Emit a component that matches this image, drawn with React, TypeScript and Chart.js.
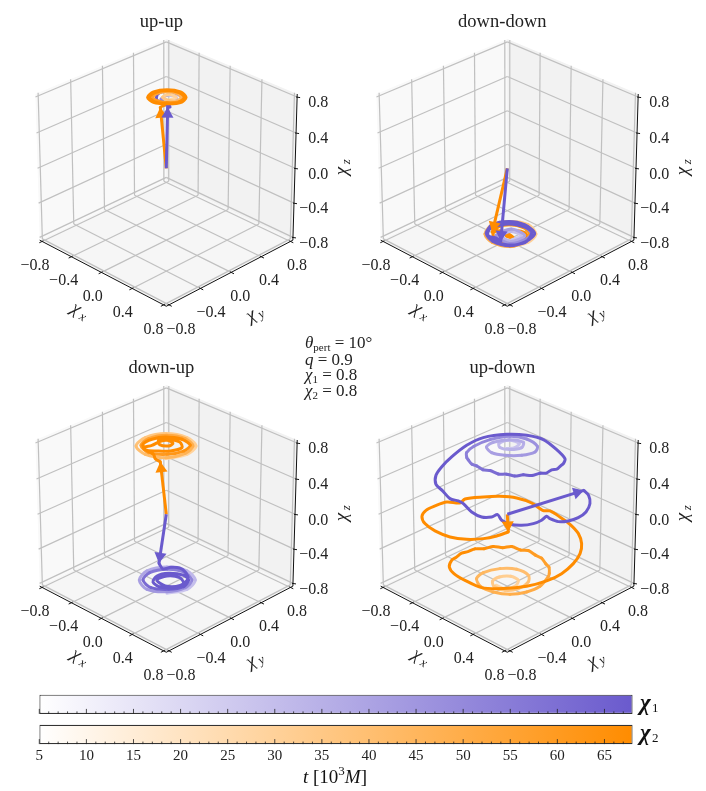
import React, { useEffect, useRef } from "react";
import { Chart, registerables } from "chart.js";

Chart.register(...registerables);

type Vec3 = [number, number, number];

const tickValues = [-0.8, -0.4, 0, 0.4, 0.8];
const tickLabels = ["\u22120.8", "\u22120.4", "0.0", "0.4", "0.8"];
const colorbarMinorTicks = [5,6,7,8,9,10,11,12,13,14,15,16,17,18,19,20,21,22,23,24,25,26,27,28,29,30,31,32,33,34,35,36,37,38,39,40,41,42,43,44,45,46,47,48,49,50,51,52,53,54,55,56,57,58,59,60,61,62,63,64,65,66,67];
const colorbarRange = [5, 68];

const PURPLE = [106, 90, 205];
const ORANGE = [255, 140, 0];

// spin tracks in time order, last point is the final spin the arrow points at
const upUpChi1: Vec3[] = [
  [.01,.03,.78],[.05,.09,.78],[0,.12,.78],[-.07,.08,.78],[-.06,-.01,.78],[.02,-.03,.78],[.09,.05,.78],[.07,.14,.78],
  [-.03,.17,.78],[-.12,.13,.78],[-.15,.04,.78],[-.09,-.04,.78],[0,-.06,.78],[.08,-.04,.78],[.1,-.05,.78],[.085,-.067,.78],
];
const upUpChi2: Vec3[] = [
  [.005,.035,.78],[.015,.116,.78],[-.066,.106,.78],[-.075,.026,.78],[.005,.025,.78],[.067,.073,.78],[.05,.15,.78],[-.03,.17,.78],
  [-.115,.125,.78],[-.16,.04,.78],[-.14,-.04,.78],[-.063,-.057,.78],[.022,-.012,.78],[.092,.077,.78],[.07,.17,.78],[-.025,.195,.78],
  [-.13,.14,.78],[-.185,.035,.78],[-.16,-.06,.78],[-.065,-.085,.78],[.037,-.027,.78],[.112,.077,.78],[.082,.182,.78],[-.022,.212,.78],
  [-.14,.15,.78],[-.202,.032,.78],[-.175,-.075,.78],[-.07,-.1,.78],[.03,-.05,.78],[.036,-.116,.78],
];

const downDownChi1: Vec3[] = [
  [.086,-.033,-.78],[.098,.09,-.78],[-.024,.077,-.78],[-.036,-.044,-.78],[.103,-.05,-.78],[.12,.112,-.78],[-.054,.107,-.78],[-.07,-.078,-.78],
  [.117,-.086,-.78],[.173,.08,-.78],[.135,.186,-.78],[-.018,.227,-.78],[-.154,.176,-.78],[-.218,.027,-.78],[-.166,-.115,-.78],[-.02,-.172,-.78],
  [.146,-.115,-.78],[.203,.05,-.78],[.157,.208,-.78],[-.02,.25,-.78],[-.166,.188,-.78],[-.235,.035,-.78],[-.174,-.098,-.78],[-.037,-.155,-.78],
  [.112,-.125,-.78],[.206,.003,-.78],[.183,.115,-.78],[.101,.219,-.78],[-.075,.195,-.78],[-.175,.095,-.78],[-.198,-.038,-.78],[-.125,-.133,-.78],
  [-.04,-.108,-.78],[.032,-.12,-.78],
];
const downDownChi2: Vec3[] = [
  [.163,-.123,-.78],[.226,.05,-.78],[.174,.208,-.78],[.003,.273,-.78],[-.157,.197,-.78],[-.235,.035,-.78],[-.166,-.132,-.78],[-.012,-.188,-.78],
  [.16,-.12,-.78],[.192,.04,-.78],[.132,.166,-.78],[.003,.206,-.78],[-.115,.155,-.78],[-.164,.04,-.78],[-.104,-.087,-.78],[.025,-.127,-.78],
  [.14,-.064,-.78],[.162,.069,-.78],[.11,.144,-.78],[.012,.13,-.78],[-.046,.055,-.78],[.002,-.015,-.78],[.063,.012,-.78],[.007,.024,-.78],
  [-.11,.008,-.78],[-.138,-.062,-.78],
];

const downUpChi1: Vec3[] = [
  [.188,-.179,-.75],[.271,.005,-.75],[.208,.178,-.75],[.039,.237,-.75],[-.146,.154,-.75],[-.228,-.03,-.75],[-.165,-.195,-.75],[.004,-.262,-.75],
  [.167,-.158,-.75],[.238,.015,-.75],[.186,.156,-.75],[.029,.202,-.75],[-.116,.125,-.75],[-.189,-.033,-.75],[-.141,-.17,-.75],[.01,-.214,-.75],
  [.149,-.118,-.75],[.215,.016,-.75],[.164,.134,-.75],[.071,.16,-.75],[-.054,.085,-.75],[-.098,-.026,-.75],[-.049,-.129,-.75],[.064,-.143,-.75],
  [.161,-.063,-.75],[.177,.054,-.75],[.074,.104,-.75],[-.032,.04,-.75],[-.047,-.077,-.75],[.084,-.097,-.75],[.176,.011,-.75],[.143,.146,-.75],
  [.04,.213,-.75],[-.048,.226,-.75],[-.115,.176,-.75],[-.147,.102,-.75],[-.245,.147,-.75],
];
const downUpChi2: Vec3[] = [
  [.11,-.114,.75],[.195,.081,.75],[.15,.246,.75],[-.016,.292,.75],[-.207,.203,.75],[-.294,.014,.75],[-.25,-.153,.75],[-.083,-.197,.75],
  [.097,-.102,.75],[.171,.082,.75],[.13,.226,.75],[-.015,.268,.75],[-.179,.188,.75],[-.26,.024,.75],[-.226,-.112,.75],[-.082,-.154,.75],
  [.062,-.053,.75],[.131,.1,.75],[.103,.217,.75],[-.029,.238,.75],[-.169,.156,.75],[-.229,.038,.75],[-.225,-.086,.75],[-.138,-.142,.75],
  [-.047,-.077,.75],[.042,.012,.75],[.077,.132,.75],[-.01,.188,.75],[-.129,.138,.75],[-.172,.07,.75],[-.11,.021,.75],[-.033,.064,.75],
  [-.038,.127,.75],[-.116,.125,.75],[-.148,.059,.75],[-.153,-.039,.75],[-.179,-.124,.75],[-.127,-.14,.75],[-.028,-.142,.75],[.039,-.186,.75],
  [.11,-.19,.75],
];

const upDownChi1: Vec3[] = ([
  [.24,.78,.03],[.356,.728,.05],[.492,.61,.07],[.593,.456,.09],[.635,.311,.11],[.632,.181,.13],[.596,.084,.15],[.524,.044,.17],
  [.494,.03,.19],[.522,-.065,.2],[.531,-.184,.22],[.496,-.305,.24],[.427,-.391,.26],[.343,-.418,.28],[.266,-.395,.3],[.267,-.476,.31],
  [.222,-.564,.33],[.114,-.589,.35],[-.025,-.561,.37],[-.082,-.571,.38],[-.156,-.608,.39],[-.292,-.57,.4],[-.409,-.542,.41],[-.501,-.45,.43],
  [-.548,-.328,.45],[-.586,-.156,.47],[-.611,.069,.49],[-.565,.245,.52],[-.418,.41,.55],[-.25,.509,.57],[-.063,.543,.59],[.175,.483,.61],
  [.355,.414,.62],[.4,.35,.615],[.433,.278,.635],[.44,.22,.625],[.435,.156,.645],[.435,.085,.64],[.422,.014,.665],[.39,-.065,.66],
  [.353,-.14,.685],[.3,-.2,.675],[.245,-.253,.695],[.175,-.295,.685],[.098,-.329,.705],[.03,-.355,.695],[-.039,-.37,.715],[-.1,-.37,.705],
  [-.16,-.36,.725],[-.215,-.325,.71],[-.264,-.278,.725],[-.288,-.156,.73],[-.266,.035,.73],[-.164,.2,.74],[-.019,.277,.74],[.156,.245,.75],[.212,.157,.75],
  [.165,.026,.75],[.065,-.096,.76],[-.058,-.151,.76],[-.164,-.113,.76],[-.178,-.009,.76],[-.094,.12,.77],[.034,.18,.77],[.09,.101,.77],
  [.048,-.012,.78],[-.045,-.053,.78],[-.102,-.009,.78],[-.075,.102,.78],[.033,.127,.78],[.055,.047,.78],[.013,-.022,.78],
] as Vec3[]).reverse();
const upDownChi2: Vec3[] = ([
  [.535,-.522,.28],[.421,-.563,.2],[.322,-.642,.16],[.165,-.707,.11],[-.019,-.745,.07],[-.239,-.725,.03],[-.431,-.667,0],[-.576,-.562,-.03],
  [-.647,-.437,-.05],[-.664,-.3,-.07],[-.658,-.15,-.09],[-.568,-.063,-.1],[-.607,.043,-.12],[-.532,.212,-.14],[-.451,.353,-.16],[-.34,.465,-.18],
  [-.199,.523,-.2],[-.055,.526,-.22],[-.019,.588,-.24],[.102,.6,-.26],[.24,.596,-.28],[.381,.567,-.31],[.497,.494,-.34],[.58,.39,-.37],
  [.629,.251,-.4],[.645,.079,-.43],[.605,-.081,-.46],[.507,-.249,-.49],[.359,-.412,-.51],[.18,-.523,-.53],[-.045,-.519,-.55],[-.225,-.486,-.57],
  [-.351,-.422,-.58],[-.442,-.3,-.6],[-.465,-.22,-.615],[-.471,-.138,-.605],[-.465,-.06,-.62],[-.448,.016,-.615],[-.41,.1,-.635],[-.366,.179,-.625],
  [-.31,.25,-.645],[-.254,.312,-.635],[-.185,.36,-.665],[-.115,.394,-.655],[-.03,.405,-.675],[.06,.397,-.665],[.14,.375,-.685],[.213,.343,-.675],
  [.27,.29,-.695],[.315,.231,-.685],[.367,.068,-.7],[.339,-.081,-.71],[.247,-.211,-.72],[.106,-.292,-.72],[-.061,-.295,-.73],[-.185,-.225,-.73],
  [-.227,-.093,-.74],[-.167,.069,-.74],[-.058,.183,-.75],[.096,.185,-.75],[.18,.1,-.75],[.187,-.04,-.76],[.12,-.15,-.76],[-.005,-.173,-.76],
  [-.092,-.103,-.77],[-.098,-.008,-.77],[-.031,.076,-.77],[.07,.077,-.77],[.124,-.022,-.77],[.087,-.118,-.77],[-.015,-.135,-.77],
] as Vec3[]).reverse();

// camera of the 3D box
const BOX_LIMIT = 0.8333;
const ELEV = (28 * Math.PI) / 180;
const AZIM = (-45 * Math.PI) / 180;
const CAMERA_DIST = 14;
const BOX_XY = 1.1;
const BOX_Z = 1.0;
const FOCAL = 2317;
const PANEL_W = 366;
const PANEL_H = 346;
const ORIGIN_X = 166.3;
const ORIGIN_Y = 168.3;

const SERIF = '"Liberation Serif", serif';

const project = ([x, y, z]: Vec3) => {
  const px = (x * BOX_XY) / (2 * BOX_LIMIT);
  const py = (y * BOX_XY) / (2 * BOX_LIMIT);
  const pz = (z * BOX_Z) / (2 * BOX_LIMIT);
  const w = [Math.cos(ELEV) * Math.cos(AZIM), Math.cos(ELEV) * Math.sin(AZIM), Math.sin(ELEV)];
  const u = [-Math.sin(AZIM), Math.cos(AZIM), 0];
  const v = [-w[2] * Math.cos(AZIM), -w[2] * Math.sin(AZIM), Math.cos(ELEV)];
  const depth = CAMERA_DIST - (px * w[0] + py * w[1] + pz * w[2]);
  return {
    x: (FOCAL * (px * u[0] + py * u[1])) / depth,
    y: (FOCAL * (px * v[0] + py * v[1] + pz * v[2])) / depth,
  };
};

// the tracks were read with a flat view of the box, so they go back through the same one
const projectTrack = ([x, y, z]: Vec3) => ({
  x: 75 * (x + y),
  y: 39.5 * (y - x) + 86 * z,
});

const mix = (rgb: number[], f: number) => {
  const c = rgb.map((v) => Math.round(255 + (v - 255) * f));
  return `rgb(${c[0]},${c[1]},${c[2]})`;
};

const pathDataset = (track: Vec3[], rgb: number[]) => ({
  data: track.map(projectTrack),
  showLine: true,
  pointRadius: 0,
  borderWidth: 3,
  tension: 0.3,
  borderColor: mix(rgb, 1),
  borderCapStyle: "round",
  borderJoinStyle: "round",
  segment: {
    borderColor: (ctx: any) => mix(rgb, Math.min(1, 0.35 + (1.4 * ctx.p0DataIndex) / (track.length - 1))),
  },
});

const shaftDataset = (track: Vec3[], rgb: number[]) => ({
  data: [projectTrack([0, 0, 0]), projectTrack(track[track.length - 1])],
  showLine: true,
  pointRadius: 0,
  borderWidth: 3,
  borderColor: mix(rgb, 1),
});

const HEAD_RADIUS = 7;
const headDataset = (track: Vec3[], rgb: number[]) => {
  const tip = projectTrack(track[track.length - 1]);
  const len = Math.hypot(tip.x, tip.y);
  return {
    data: [{ x: tip.x - (HEAD_RADIUS * tip.x) / len, y: tip.y - (HEAD_RADIUS * tip.y) / len }],
    showLine: false,
    pointStyle: "triangle",
    pointRadius: HEAD_RADIUS,
    pointBorderWidth: 0,
    pointBackgroundColor: mix(rgb, 1),
    rotation: (Math.atan2(tip.x, tip.y) * 180) / Math.PI,
  };
};

const boxPlugin = (title: string) => {
  const L = BOX_LIMIT;
  return {
    id: "box",
    beforeDatasetsDraw(chart: any) {
      const { ctx, scales } = chart;
      const toPx = (p: Vec3) => {
        const q = project(p);
        return [scales.x.getPixelForValue(q.x), scales.y.getPixelForValue(q.y)];
      };
      const pane = (pts: Vec3[], fill: string) => {
        ctx.beginPath();
        pts.forEach((p, i) => {
          const [a, b] = toPx(p);
          if (i === 0) ctx.moveTo(a, b);
          else ctx.lineTo(a, b);
        });
        ctx.closePath();
        ctx.fillStyle = fill;
        ctx.fill();
      };
      const seg = (a: Vec3, b: Vec3) => {
        const [x0, y0] = toPx(a);
        const [x1, y1] = toPx(b);
        ctx.beginPath();
        ctx.moveTo(x0, y0);
        ctx.lineTo(x1, y1);
        ctx.stroke();
      };
      ctx.save();
      pane([[-L, -L, -L], [-L, L, -L], [-L, L, L], [-L, -L, L]], "#f9f9f9");
      pane([[-L, L, -L], [L, L, -L], [L, L, L], [-L, L, L]], "#f2f2f2");
      pane([[-L, -L, -L], [L, -L, -L], [L, L, -L], [-L, L, -L]], "#f6f6f6");
      ctx.strokeStyle = "#c0c0c0";
      ctx.lineWidth = 1.2;
      tickValues.forEach((t) => {
        seg([t, -L, -L], [t, L, -L]);
        seg([-L, t, -L], [L, t, -L]);
        seg([-L, t, -L], [-L, t, L]);
        seg([-L, -L, t], [-L, L, t]);
        seg([t, L, -L], [t, L, L]);
        seg([-L, L, t], [L, L, t]);
      });
      ctx.restore();
    },
    afterDatasetsDraw(chart: any) {
      const { ctx, scales } = chart;
      const toPx = (p: Vec3) => {
        const q = project(p);
        return [scales.x.getPixelForValue(q.x), scales.y.getPixelForValue(q.y)];
      };
      const seg = (a: Vec3, b: Vec3) => {
        const [x0, y0] = toPx(a);
        const [x1, y1] = toPx(b);
        ctx.beginPath();
        ctx.moveTo(x0, y0);
        ctx.lineTo(x1, y1);
        ctx.stroke();
      };
      ctx.save();
      ctx.strokeStyle = "#111";
      ctx.lineWidth = 1;
      seg([-L, -L, -L], [L, -L, -L]);
      seg([L, -L, -L], [L, L, -L]);
      seg([L, L, -L], [L, L, L]);

      ctx.fillStyle = "#222";
      ctx.font = `16px ${SERIF}`;
      ctx.textBaseline = "middle";
      const front = toPx([L, -L, -L]);
      tickValues.forEach((t, i) => {
        seg([t, -L + 0.015, -L], [t, -L - 0.035, -L]);
        seg([L - 0.015, t, -L], [L + 0.035, t, -L]);
        const [zx, zy] = toPx([L, L, t]);
        ctx.beginPath();
        ctx.moveTo(zx - 1, zy);
        ctx.lineTo(zx + 3, zy + 0.6);
        ctx.stroke();

        ctx.textAlign = "center";
        const [ax, ay] = toPx([t, -L, -L]);
        ctx.fillText(tickLabels[i], ax - 7 - 2 * (t + 0.8), ay + 24.5);
        const [bx, by] = toPx([L, t, -L]);
        ctx.fillText(tickLabels[i], bx + 12 - 3.5 * (t + 0.8), by + 24.5);
        ctx.textAlign = "right";
        ctx.fillText(tickLabels[i], front[0] + 162, zy + 6);
      });

      const axisLabel = (x: number, y: number, angle: number, sub: string) => {
        ctx.save();
        ctx.translate(x, y);
        ctx.rotate(angle);
        ctx.textAlign = "left";
        ctx.font = `italic 19px ${SERIF}`;
        ctx.fillText("\u03c7", -9, 0);
        ctx.font = `italic 13px ${SERIF}`;
        ctx.fillText(sub, 2, 4);
        ctx.restore();
      };
      axisLabel(front[0] - 86, front[1] + 5, Math.PI / 6, "x");
      axisLabel(front[0] + 89, front[1] + 7, -Math.PI / 6, "y");
      axisLabel(front[0] + 176, front[1] - 140, -Math.PI / 2, "z");

      ctx.textAlign = "center";
      ctx.font = `18.5px ${SERIF}`;
      ctx.fillStyle = "#222";
      ctx.fillText(title, ORIGIN_X - 5, 22);
      ctx.restore();
    },
  };
};

const Panel = ({ title, chi1, chi2, left, top, chi1OnTop }: any) => {
  const canvasRef = useRef<HTMLCanvasElement>(null);

  useEffect(() => {
    const paths = chi1OnTop
      ? [pathDataset(chi2, ORANGE), pathDataset(chi1, PURPLE)]
      : [pathDataset(chi1, PURPLE), pathDataset(chi2, ORANGE)];
    const layers: any[] = [
      ...paths,
      shaftDataset(chi2, ORANGE),
      headDataset(chi2, ORANGE),
      shaftDataset(chi1, PURPLE),
      headDataset(chi1, PURPLE),
    ];
    // lower order is painted later in Chart.js
    const datasets = layers.map((d, i) => ({ ...d, order: layers.length - i }));

    const chart = new Chart(canvasRef.current as HTMLCanvasElement, {
      type: "scatter",
      data: { datasets },
      options: {
        animation: false,
        responsive: false,
        devicePixelRatio: 1,
        layout: { padding: 0, autoPadding: false },
        plugins: { legend: { display: false }, tooltip: { enabled: false } },
        scales: {
          x: { type: "linear", display: false, min: -ORIGIN_X, max: PANEL_W - ORIGIN_X },
          y: { type: "linear", display: false, min: ORIGIN_Y - PANEL_H, max: ORIGIN_Y },
        },
      } as any,
      plugins: [boxPlugin(title)],
    });
    return () => chart.destroy();
  }, []);

  return (
    <canvas
      ref={canvasRef}
      width={PANEL_W}
      height={PANEL_H}
      style={{ position: "absolute", left, top, width: PANEL_W, height: PANEL_H }}
    />
  );
};

const colorbarPlugin = {
  id: "colorbarExtras",
  afterDatasetsDraw(chart: any) {
    const { ctx, scales } = chart;
    ctx.save();
    ctx.strokeStyle = "#222";
    ctx.lineWidth = 0.8;
    [0, 1].forEach((row) => {
      const bottom = scales.y.getPixelForValue(row) + 9.6;
      colorbarMinorTicks.forEach((t) => {
        const x = scales.x.getPixelForValue(t);
        ctx.beginPath();
        ctx.moveTo(x, bottom);
        ctx.lineTo(x, bottom - (t % 5 === 0 ? 5 : 2.5));
        ctx.stroke();
      });
    });
    ctx.fillStyle = "#111";
    ctx.textBaseline = "middle";
    ctx.textAlign = "left";
    ["1", "2"].forEach((sub, row) => {
      const y = scales.y.getPixelForValue(row);
      ctx.font = `italic bold 23px ${SERIF}`;
      ctx.fillText("\u03c7", 640, y);
      ctx.font = `13px ${SERIF}`;
      ctx.fillText(sub, 652, y + 4);
    });
    // t [10^3 M]
    let x = 303;
    const y = 93;
    const put = (text: string, font: string, dy = 0) => {
      ctx.font = font;
      ctx.fillText(text, x, y + dy);
      x += ctx.measureText(text).width;
    };
    put("t", `italic 19px ${SERIF}`);
    put(" [10", `19px ${SERIF}`);
    put("3", `13px ${SERIF}`, -6);
    put("M", `italic 19px ${SERIF}`);
    put("]", `19px ${SERIF}`);
    ctx.restore();
  },
};

const Colorbar = () => {
  const canvasRef = useRef<HTMLCanvasElement>(null);

  useEffect(() => {
    const gradient = (context: any) => {
      const { chart, dataIndex } = context;
      const area = chart.chartArea;
      if (!area) return "#fff";
      const g = chart.ctx.createLinearGradient(area.left, 0, area.right, 0);
      g.addColorStop(0, "#fff");
      g.addColorStop(1, mix(dataIndex === 0 ? PURPLE : ORANGE, 1));
      return g;
    };
    const chart = new Chart(canvasRef.current as HTMLCanvasElement, {
      type: "bar",
      data: {
        labels: ["chi1", "chi2"],
        datasets: [
          {
            data: [colorbarRange, colorbarRange],
            backgroundColor: gradient,
            borderColor: "#333",
            borderWidth: 1.2,
            borderSkipped: false,
            barPercentage: 0.64,
            categoryPercentage: 1,
          },
        ],
      },
      options: {
        animation: false,
        responsive: false,
        devicePixelRatio: 1,
        indexAxis: "y",
        layout: { padding: { left: 39.3, right: 73.3, top: 4.2, bottom: 0 } },
        plugins: { legend: { display: false }, tooltip: { enabled: false } },
        scales: {
          x: {
            type: "linear",
            min: colorbarRange[0],
            max: colorbarRange[1],
            grid: { display: false, drawTicks: false },
            border: { display: false },
            afterFit: (s: any) => {
              s.height = 41.4;
            },
            ticks: {
              stepSize: 5,
              includeBounds: false,
              autoSkip: false,
              maxRotation: 0,
              padding: -3,
              color: "#222",
              font: { family: "Liberation Serif", size: 15 },
            },
          },
          y: { display: false },
        },
      } as any,
      plugins: [colorbarPlugin],
    });
    return () => chart.destroy();
  }, []);

  return (
    <canvas
      ref={canvasRef}
      width={706}
      height={106}
      style={{ position: "absolute", left: 0, top: 685, width: 706, height: 106 }}
    />
  );
};

const noteStyle = (top: number): React.CSSProperties => ({
  position: "absolute",
  left: 305,
  top,
  fontFamily: SERIF,
  fontSize: 17,
  lineHeight: "16px",
  color: "#222",
  whiteSpace: "nowrap",
});
const subStyle: React.CSSProperties = { fontSize: 11, verticalAlign: "-3px", lineHeight: 0 };

export default function App() {
  return (
    <div style={{ position: "absolute", left: 0, top: 0, width: 706, height: 791, background: "#fff", overflow: "hidden" }}>
      <Panel title="up-up" chi1={upUpChi1} chi2={upUpChi2} left={0} top={0} chi1OnTop={false} />
      <Panel title="down-down" chi1={downDownChi1} chi2={downDownChi2} left={341} top={0} chi1OnTop={true} />
      <Panel title="down-up" chi1={downUpChi1} chi2={downUpChi2} left={0} top={346} chi1OnTop={false} />
      <Panel title="up-down" chi1={upDownChi1} chi2={upDownChi2} left={341} top={346} chi1OnTop={true} />
      <div style={noteStyle(335)}><i>θ</i><span style={subStyle}>pert</span> = 10°</div>
      <div style={noteStyle(352)}><i>q</i> = 0.9</div>
      <div style={noteStyle(367)}><i>χ</i><span style={subStyle}>1</span> = 0.8</div>
      <div style={noteStyle(383)}><i>χ</i><span style={subStyle}>2</span> = 0.8</div>
      <Colorbar />
    </div>
  );
}
